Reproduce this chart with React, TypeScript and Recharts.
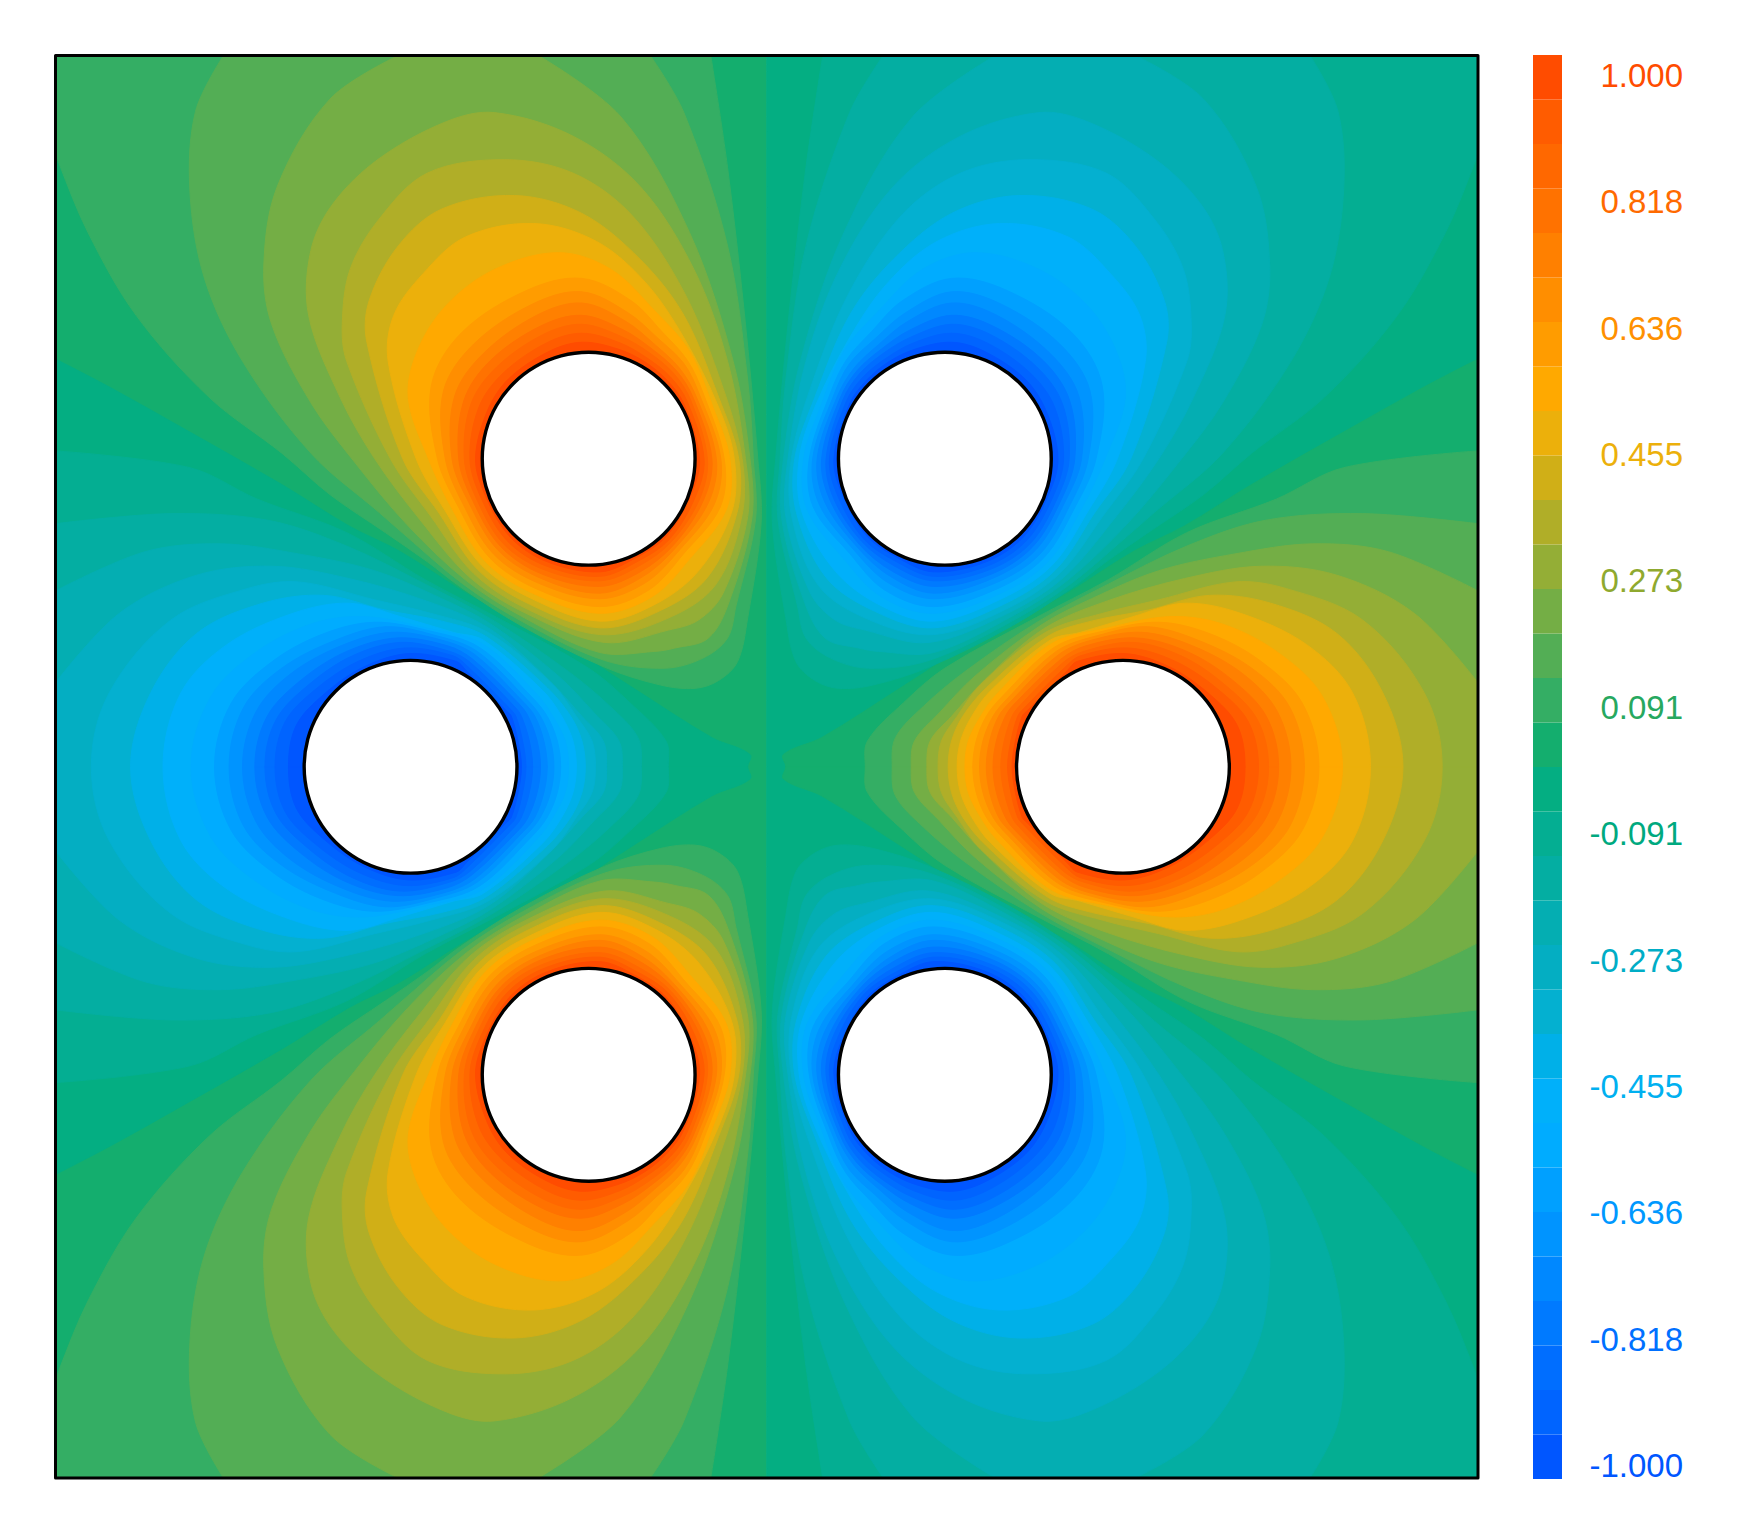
import { Bar, BarChart, Scatter, ScatterChart, XAxis, YAxis } from "recharts";

// colour bands of the scale, top (1.000) to bottom (-1.000)
const bandColors = [
  "#ff4c00", "#ff5c00", "#ff6800", "#ff7200", "#ff8000", "#ff8e00", "#ff9c00", "#ffa900",
  "#ecb00b", "#d0af17", "#b0ae28", "#94ae36", "#74ae45", "#53ae55", "#34ae64", "#14ae6e",
  "#04ae82", "#04ae92", "#04aea2", "#04aeb2", "#04aec2", "#04b0d0", "#00b0e8", "#00b0fa",
  "#00acff", "#00a0ff", "#0094ff", "#0088ff", "#007aff", "#006eff", "#0064ff", "#0056ff",
];

const tickValues = [1, 0.818, 0.636, 0.455, 0.273, 0.091, -0.091, -0.273, -0.455, -0.636, -0.818, -1];
const tickLabels = ["1.000", "0.818", "0.636", "0.455", "0.273", "0.091", "-0.091", "-0.273", "-0.455", "-0.636", "-0.818", "-1.000"];
const tickColors = ["#ff4c00", "#ff6a00", "#ff9000", "#ecb00b", "#8fa92f", "#27a85f", "#00a97f", "#00adc6", "#00b0f0", "#0098ff", "#0070ff", "#0056ff"];

const frame = [[50, 50], [1320, 50], [1320, 1320], [50, 1320], [50, 50]];
const halfPlane = [[50, 50], [685, 50], [685, 1320], [50, 1320]];

const upperHole = [[621, 410], [617.8, 385.4], [608.3, 362.5], [593.2, 342.8], [573.5, 327.7], [550.6, 318.2], [526, 315], [501.4, 318.2], [478.5, 327.7], [458.8, 342.8], [443.7, 362.5], [434.2, 385.4], [431, 410], [434.2, 434.6], [443.7, 457.5], [458.8, 477.2], [478.5, 492.3], [501.4, 501.8], [526, 505], [550.6, 501.8], [573.5, 492.3], [593.2, 477.2], [608.3, 457.5], [617.8, 434.6]];
const sideHole = [[1098, 685], [1094.8, 660.4], [1085.3, 637.5], [1070.2, 617.8], [1050.5, 602.7], [1027.6, 593.2], [1003, 590], [978.4, 593.2], [955.5, 602.7], [935.8, 617.8], [920.7, 637.5], [911.2, 660.4], [908, 685], [911.2, 709.6], [920.7, 732.5], [935.8, 752.2], [955.5, 767.3], [978.4, 776.8], [1003, 780], [1027.6, 776.8], [1050.5, 767.3], [1070.2, 752.2], [1085.3, 732.5], [1094.8, 709.6]];

// contours of the upper left lobe, innermost first (index + 1 = band number)
const upperLobe = [
  [[491, 314], [520, 306], [552, 312], [576, 323.4], [596, 340], [611, 361], [625, 410], [617, 443], [595.3, 479.3], [567, 499], [536, 511], [489, 502], [456, 480], [434, 443.5], [425, 410], [435.4, 367.7], [454.6, 338.6]],
  [[488.4, 306.6], [520, 298], [554, 306.6], [578, 320], [599, 337], [614, 359], [629, 410], [621, 444.5], [598, 482], [569, 502], [536, 515], [487.4, 505.5], [453, 483], [430, 445], [420, 410], [428, 364], [449.6, 333.6]],
  [[485.6, 299], [520, 290], [555.4, 301], [580.5, 315.6], [602, 334], [617, 357.5], [632, 410], [625, 446], [600, 484], [570.5, 506], [536, 519], [486, 509], [450, 486], [426, 446], [415, 410], [421, 361], [444, 328]],
  [[483, 291.6], [520, 282], [557, 295], [582.5, 312], [604.5, 331.5], [619.5, 356], [636, 410], [628.5, 447], [602.4, 486.4], [572.6, 510.6], [536, 524], [484.4, 513], [447.5, 488.5], [422.6, 447.6], [410, 410], [414.6, 358], [438.3, 322.3]],
  [[479.5, 282], [520, 271], [559, 287.3], [585, 308], [607, 329], [622, 354.5], [640, 410], [633, 449], [604.5, 488.5], [574.7, 515], [536, 530], [483, 516.6], [444.7, 491.3], [419, 449], [404, 410], [406.4, 354], [432, 316]],
  [[475.7, 272], [520, 261], [561, 279.6], [588, 302.6], [611, 325], [625, 353], [644, 410], [638, 451], [607.3, 491.3], [577, 520.5], [536, 535], [481, 521], [441, 495], [414, 450.7], [398, 410], [396.4, 349.5], [423.5, 307.5]],
  [[471, 259.6], [520, 249], [564, 269], [591.5, 296.6], [614, 322], [628, 351], [647, 410], [643.5, 453], [610.8, 494.8], [580, 527], [536, 542], [479, 526], [437.6, 498.4], [409.4, 452.4], [391, 410], [385.6, 344.4], [413, 297]],
  [[499, 226], [546, 241], [585, 278], [616, 314], [637, 364], [652, 410], [649, 455], [615.8, 499.8], [583, 533], [536, 548], [477, 530.5], [434, 502], [404, 454.5], [383, 410], [365, 356], [373, 314], [399, 273], [442, 241]],
  [[477, 200], [533, 216], [577, 253], [611, 302], [642, 364], [656, 410], [654, 456.5], [625, 509], [586, 539.6], [536, 555], [475.4, 535], [430.6, 505.4], [398, 456.5], [372, 410], [347, 323], [352, 282], [378, 245], [416, 212]],
  [[460, 175], [520, 191], [572, 232], [611, 282], [642, 355], [660, 410], [658.5, 458], [632, 516], [589, 546], [536, 561], [473.5, 540], [427, 509], [392.5, 458.6], [360, 410], [328, 306], [330, 269], [356, 220], [395, 187]],
  [[451, 143], [512, 155], [564, 192], [611, 261], [646, 347], [663, 410], [663, 460], [639, 523], [593, 554], [536, 567], [471.6, 544.4], [423.5, 512.5], [385, 461.3], [349, 410], [310, 323], [306, 290], [313, 241], [339, 196], [382, 155]],
  [[442, 101], [512, 122], [572, 167], [620, 241], [650, 323], [666, 410], [668, 461.6], [646, 530], [624, 554], [597, 563], [540, 574], [470, 548], [420, 516], [375.6, 464.7], [335, 410], [304, 355], [276, 282], [278, 224], [298, 182], [339, 142], [399, 109]],
  [[356, 50], [481, 50], [555, 105], [616, 208], [655, 323], [670, 410], [671.7, 463], [652, 536], [633, 570], [603, 579], [585, 582], [536, 583], [468.6, 552], [417, 519], [364, 469], [317, 413], [278, 360], [243, 290], [236, 237], [248, 167], [295, 89]],
  [[200, 50], [581, 50], [611, 101], [650, 220], [668, 340], [673, 410], [675, 464], [657.5, 541.5], [650, 570], [628, 588], [594, 597], [540, 590], [467, 555.5], [414, 522], [355, 472], [339, 458], [278, 405], [217, 323], [183, 249], [170, 171], [175, 100]],
  [[50, 50], [635, 50], [650, 150], [665, 280], [677, 410], [680, 467], [668, 552], [659, 591], [642, 608], [621, 615], [590, 612], [540, 596], [465.6, 559], [411.5, 524.5], [382, 502], [344.6, 476], [295, 442], [252, 405], [187, 355], [122, 282], [79, 208], [53, 146], [50, 134]],
];

// upper half of the contours of the right lobe, innermost first
const sideLobe = [
  [[1112, 685], [1105, 648], [1080, 620], [1045, 596], [1005, 584], [962, 591], [953.5, 599], [917, 635.5], [913, 640], [907, 662], [904, 685]],
  [[1124, 685], [1115, 645], [1088, 616], [1050, 591], [1008, 579], [965, 586], [951.5, 596], [914, 633.5], [909, 640], [903, 662], [900, 685]],
  [[1133, 685], [1123, 643], [1093, 611], [1055, 586], [1012, 574], [968, 582], [949.5, 592], [910, 631.5], [904, 640], [897, 662], [894, 685]],
  [[1142, 685], [1131, 640], [1100, 607], [1060, 582], [1015, 570], [970, 577], [947.5, 589], [906, 629], [898, 640], [890, 662], [887, 685]],
  [[1153, 685], [1141, 636], [1110, 602], [1065, 577], [1020, 565], [975, 572], [945.5, 585], [902.5, 627], [892, 640], [884, 662], [881, 685]],
  [[1165, 685], [1152, 632], [1118, 597], [1070, 572], [1025, 560], [980, 568], [943.5, 582], [899, 625], [887, 640], [878, 662], [875, 685]],
  [[1178, 685], [1163, 628], [1125, 590], [1080, 566], [1035, 556], [985, 564], [941.5, 578.5], [895, 622.5], [881, 640], [872, 662], [869, 685]],
  [[1199, 685], [1181, 622], [1140, 582], [1090, 557], [1044, 551], [990, 561], [939.5, 575], [890.5, 620], [876, 640], [865, 662], [862, 685]],
  [[1224, 685], [1208, 619], [1167, 576], [1108, 548], [1058, 539], [1012, 551], [965, 565], [938, 572], [885, 617], [868, 640], [858, 662], [855, 685]],
  [[1253, 685], [1235, 619], [1194, 566], [1135, 539], [1080, 532], [1026, 545], [975, 555], [936, 568.5], [881, 614.5], [860, 640], [850, 662], [847, 685]],
  [[1288, 685], [1272, 619], [1217, 554], [1149, 526], [1103, 520], [1035, 536], [985, 548], [934, 565], [876, 611.5], [855, 640], [841, 662], [838, 685]],
  [[1320, 685], [1320, 610], [1263, 548], [1194, 514], [1126, 506], [1058, 517], [989, 537], [932, 562], [880, 607], [850, 640], [831, 662], [828, 685]],
  [[1320, 685], [1320, 528], [1240, 493], [1172, 486], [1103, 495], [1035, 510], [975, 535], [930, 558.5], [871, 604], [839, 637], [817, 662], [814, 685]],
  [[1320, 685], [1320, 468], [1217, 459], [1130, 465], [1060, 488], [990, 522], [928, 555], [862, 600], [825, 631], [800, 659], [797, 685]],
  [[1320, 685], [1320, 403], [1200, 418], [1140, 446], [1060, 476], [990, 518], [926, 551.6], [844, 597], [807, 628], [775, 662], [773, 685]],
  [[1320, 685], [1320, 321], [1270, 347], [1204, 384], [1118, 433], [1058, 470], [1012, 493], [945, 535], [875, 570], [807, 613], [734, 659], [700, 674], [702, 685]],
];

const toPoints = (pts: number[][]) => pts.map(([x, y]) => ({ x, y }));
const noDot = () => <g />;

const PLOT_MIN = 55.5;
const PLOT_MAX = 1478;
const onEdge = (p: any) =>
  Math.abs(p.x - PLOT_MIN) < 1 || Math.abs(p.x - PLOT_MAX) < 1 || Math.abs(p.y - PLOT_MIN) < 1 || Math.abs(p.y - PLOT_MAX) < 1;

// rounds a contour through the points the scales hand back; points on the frame stay sharp
function contourPath(points: any[], open: boolean) {
  const n = points.length;
  const dirs = points.map((p, i) => {
    if (onEdge(p)) return { x: 0, y: 0 };
    if (open && (i === 0 || i === n - 1)) return { x: 0, y: i === 0 ? Math.sign(points[1].y - p.y) : Math.sign(p.y - points[n - 2].y) };
    const a = points[(i + n - 1) % n];
    const b = points[(i + 1) % n];
    const len = Math.hypot(b.x - a.x, b.y - a.y) || 1;
    return { x: (b.x - a.x) / len, y: (b.y - a.y) / len };
  });
  let d = `M${points[0].x},${points[0].y}`;
  const last = open ? n - 1 : n;
  for (let i = 0; i < last; i++) {
    const j = (i + 1) % n;
    const p = points[i];
    const q = points[j];
    const len = Math.hypot(q.x - p.x, q.y - p.y) / 3;
    d += `C${p.x + dirs[i].x * len},${p.y + dirs[i].y * len} ${q.x - dirs[j].x * len},${q.y - dirs[j].y * len} ${q.x},${q.y}`;
  }
  return d + "Z";
}

function polygon(key: string, pts: number[][], xId: string, yId: string, fill: string, stroke = fill, strokeWidth = 1, open = false) {
  return (
    <Scatter
      key={key}
      data={toPoints(pts)}
      xAxisId={xId}
      yAxisId={yId}
      shape={noDot}
      line={(lp: any) => <path d={contourPath(lp.points, open)} fill={fill} stroke={stroke} strokeWidth={strokeWidth} strokeLinejoin="round" />}
      isAnimationActive={false}
    />
  );
}

function lobeSeries() {
  const out = [
    polygon("bgL", halfPlane, "x", "y", bandColors[15]),
    polygon("bgR", halfPlane, "xf", "y", bandColors[16]),
  ];
  for (let i = sideLobe.length - 1; i >= 0; i--) {
    const pos = bandColors[i];
    const neg = bandColors[31 - i];
    out.push(polygon(`rt${i}`, sideLobe[i], "x", "y", pos, pos, 1, true));
    out.push(polygon(`rb${i}`, sideLobe[i], "x", "yf", pos, pos, 1, true));
    out.push(polygon(`lt${i}`, sideLobe[i], "xf", "y", neg, neg, 1, true));
    out.push(polygon(`lb${i}`, sideLobe[i], "xf", "yf", neg, neg, 1, true));
  }
  for (let i = upperLobe.length - 1; i >= 0; i--) {
    const pos = bandColors[i];
    const neg = bandColors[31 - i];
    out.push(polygon(`tl${i}`, upperLobe[i], "x", "y", pos));
    out.push(polygon(`bl${i}`, upperLobe[i], "x", "yf", pos));
    out.push(polygon(`tr${i}`, upperLobe[i], "xf", "y", neg));
    out.push(polygon(`br${i}`, upperLobe[i], "xf", "yf", neg));
  }
  out.push(polygon("h1", upperHole, "x", "y", "#ffffff", "#000000", 3.4));
  out.push(polygon("h2", upperHole, "x", "yf", "#ffffff", "#000000", 3.4));
  out.push(polygon("h3", upperHole, "xf", "y", "#ffffff", "#000000", 3.4));
  out.push(polygon("h4", upperHole, "xf", "yf", "#ffffff", "#000000", 3.4));
  out.push(polygon("h5", sideHole, "x", "y", "#ffffff", "#000000", 3.4));
  out.push(polygon("h6", sideHole, "xf", "y", "#ffffff", "#000000", 3.4));
  out.push(polygon("frame", frame, "x", "y", "none", "#000000", 3));
  return out;
}

const barRow = [{ name: "scale", ...Object.fromEntries(bandColors.map((_, i) => [`b${i}`, 1])) }];
const labelRows = tickValues.map((v, i) => ({ x: 1, y: v, i }));

function ScaleLabel({ cx, cy, payload }: any) {
  return (
    <text x={cx} y={cy} dy={11} textAnchor="end" fontSize={33} fontFamily="Liberation Sans" fill={tickColors[payload.i]}>
      {tickLabels[payload.i]}
    </text>
  );
}

export default function App() {
  return (
    <div style={{ position: "absolute", left: 0, top: 0, width: 1756, height: 1534, background: "#fff" }}>
      <div style={{ position: "absolute", left: 0, top: 0 }}>
        <ScatterChart width={1500} height={1534} margin={{ left: 55.5, right: 22, top: 55.5, bottom: 56 }}>
          <XAxis xAxisId="x" type="number" dataKey="x" domain={[50, 1320]} hide />
          <XAxis xAxisId="xf" type="number" dataKey="x" domain={[50, 1320]} reversed hide />
          <YAxis yAxisId="y" type="number" dataKey="y" domain={[50, 1320]} reversed hide />
          <YAxis yAxisId="yf" type="number" dataKey="y" domain={[50, 1320]} hide />
          {lobeSeries()}
        </ScatterChart>
      </div>
      <div style={{ position: "absolute", left: 1533, top: 0 }}>
        <BarChart width={29} height={1534} data={barRow} barCategoryGap={0} margin={{ left: 0, right: 0, top: 55, bottom: 55 }}>
          <XAxis dataKey="name" hide />
          <YAxis domain={[0, 32]} hide />
          {[...bandColors].reverse().map((c, i) => (
            <Bar key={c} dataKey={`b${31 - i}`} stackId="scale" fill={c} isAnimationActive={false} />
          ))}
        </BarChart>
      </div>
      <div style={{ position: "absolute", left: 1580, top: 0 }}>
        <ScatterChart width={103} height={1534} margin={{ left: 0, right: 0, top: 76, bottom: 68 }}>
          <XAxis type="number" dataKey="x" domain={[0, 1]} hide />
          <YAxis type="number" dataKey="y" domain={[-1, 1]} hide />
          <Scatter data={labelRows} shape={<ScaleLabel />} isAnimationActive={false} />
        </ScatterChart>
      </div>
    </div>
  );
}
